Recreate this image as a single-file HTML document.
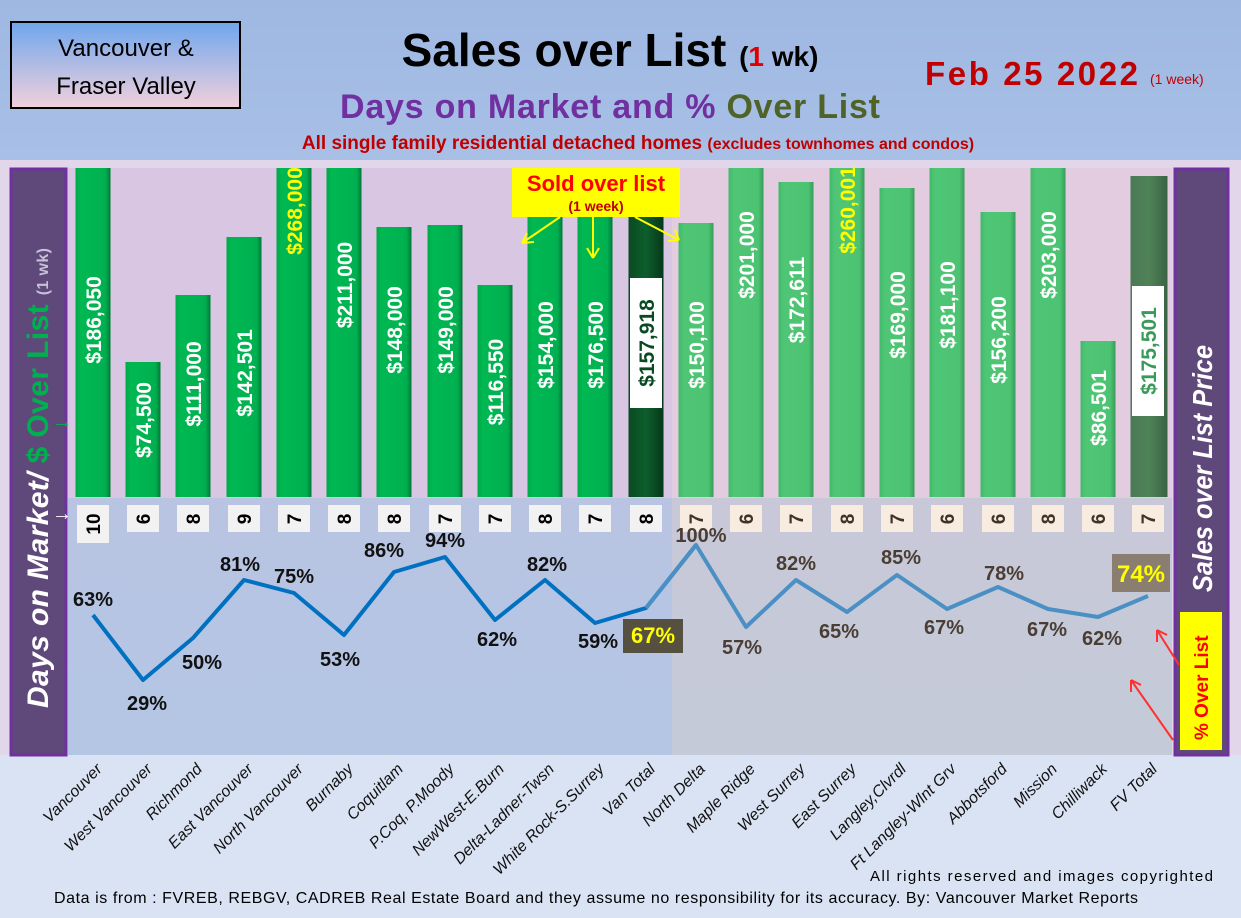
<!DOCTYPE html><html><head><meta charset="utf-8"><style>body{margin:0}svg{display:block}</style></head><body>
<svg width="1241" height="918" xmlns="http://www.w3.org/2000/svg" font-family="Liberation Sans, sans-serif">
<defs>
<linearGradient id="hdr" x1="0" y1="0" x2="0" y2="1"><stop offset="0" stop-color="#9fb8e2"/><stop offset="1" stop-color="#a8c0e6"/></linearGradient>
<linearGradient id="tb" x1="0" y1="0" x2="0" y2="1"><stop offset="0" stop-color="#6fa6ec"/><stop offset="1" stop-color="#f2d0dc"/></linearGradient>
<linearGradient id="g1" x1="0" x2="1"><stop offset="0" stop-color="#00a848"/><stop offset=".15" stop-color="#00b852"/><stop offset=".85" stop-color="#00b050"/><stop offset="1" stop-color="#007a36"/></linearGradient>
<linearGradient id="g2" x1="0" x2="1"><stop offset="0" stop-color="#42b86a"/><stop offset=".15" stop-color="#4fc676"/><stop offset=".85" stop-color="#4cc372"/><stop offset="1" stop-color="#3a9a5a"/></linearGradient>
<linearGradient id="g3" x1="0" x2="1"><stop offset="0" stop-color="#0a4a22"/><stop offset=".5" stop-color="#0d5e2c"/><stop offset="1" stop-color="#06381a"/></linearGradient>
<linearGradient id="g4" x1="0" x2="1"><stop offset="0" stop-color="#4a7a55"/><stop offset=".5" stop-color="#508258"/><stop offset="1" stop-color="#3a6444"/></linearGradient>
<linearGradient id="lowL" x1="0" y1="0" x2="0" y2="1"><stop offset="0" stop-color="#b8c4e2"/><stop offset="1" stop-color="#b4c6e4"/></linearGradient>
<linearGradient id="lowR" x1="0" y1="0" x2="0" y2="1"><stop offset="0" stop-color="#c8c8d8"/><stop offset="1" stop-color="#c4cad8"/></linearGradient>
</defs>
<rect width="1241" height="918" fill="#dae3f3"/>
<rect width="1241" height="160" fill="url(#hdr)"/>
<rect x="0" y="160" width="1241" height="600" fill="#e2d6ea"/>
<rect x="68" y="168" width="604" height="330" fill="#d8c6e2"/>
<rect x="672" y="168" width="500" height="330" fill="#e4cce0"/>
<rect x="68" y="498" width="604" height="257" fill="url(#lowL)"/>
<rect x="672" y="498" width="500" height="257" fill="url(#lowR)"/>
<rect x="0" y="755" width="1241" height="163" fill="#dae3f3"/>
<!-- title -->
<rect x="11" y="22" width="229" height="86" fill="url(#tb)" stroke="#000" stroke-width="2"/>
<text x="126" y="56" font-size="24" text-anchor="middle">Vancouver &amp;</text>
<text x="126" y="94" font-size="24" text-anchor="middle">Fraser Valley</text>
<text x="610" y="66" font-size="46" font-weight="bold" text-anchor="middle">Sales over List <tspan font-size="28">(<tspan fill="#e00000">1</tspan> wk)</tspan></text>
<text x="610" y="118" font-size="34" font-weight="bold" text-anchor="middle" fill="#7030a0" textLength="540">Days on Market and % <tspan fill="#4f6228">Over List</tspan></text>
<text x="638" y="149" font-size="19" font-weight="bold" text-anchor="middle" fill="#c00000">All single family residential detached homes <tspan font-size="16">(excludes townhomes and condos)</tspan></text>
<text x="925" y="85" font-size="33" font-weight="bold" fill="#c00000" textLength="213">Feb 25  2022</text>
<text x="1150" y="84" font-size="14" fill="#c00000">(1 week)</text>
<!-- side panels -->
<rect x="11" y="169" width="55" height="586" fill="#5f497a" stroke="#7030a0" stroke-width="3"/>
<text transform="translate(48,708) rotate(-90)" font-size="30" font-weight="bold" font-style="italic" fill="#fff" textLength="460">Days on Market/ <tspan fill="#00b050" font-style="normal">$ Over List</tspan> <tspan font-size="16" fill="#c8c0d8" font-style="normal">(1 wk)</tspan></text>
<text x="52" y="428" font-size="20" fill="#00b050">→</text>
<text x="52" y="520" font-size="20" fill="#fff">→</text>
<rect x="1175" y="169" width="53" height="586" fill="#5f497a" stroke="#7030a0" stroke-width="3"/>
<text transform="translate(1212,592) rotate(-90)" font-size="28" font-weight="bold" font-style="italic" fill="#fff" textLength="247" lengthAdjust="spacingAndGlyphs">Sales over List Price</text>
<rect x="1180" y="612" width="42" height="138" fill="#ffff00"/>
<text transform="translate(1208,740) rotate(-90)" font-size="19" font-weight="bold" fill="#ff0000">% Over List</text>
<g stroke="#ff3030" stroke-width="2" fill="none"><path d="M1179 665 L1157 630 M1157 630 l0 12 M1157 630 l10 5"/><path d="M1173 740 L1131 680 M1131 680 l0 12 M1131 680 l10 5"/></g>
<!-- bars -->
<g>
<rect x="75.5" y="168" width="35" height="329" fill="url(#g1)"/>
<rect x="125.5" y="362" width="35" height="135" fill="url(#g1)"/>
<rect x="175.5" y="295" width="35" height="202" fill="url(#g1)"/>
<rect x="226.5" y="237" width="35" height="260" fill="url(#g1)"/>
<rect x="276.5" y="168" width="35" height="329" fill="url(#g1)"/>
<rect x="326.5" y="168" width="35" height="329" fill="url(#g1)"/>
<rect x="376.5" y="227" width="35" height="270" fill="url(#g1)"/>
<rect x="427.5" y="225" width="35" height="272" fill="url(#g1)"/>
<rect x="477.5" y="285" width="35" height="212" fill="url(#g1)"/>
<rect x="527.5" y="215" width="35" height="282" fill="url(#g1)"/>
<rect x="577.5" y="195" width="35" height="302" fill="url(#g1)"/>
<rect x="628.5" y="213" width="35" height="284" fill="url(#g3)"/>
<rect x="678.5" y="223" width="35" height="274" fill="url(#g2)"/>
<rect x="728.5" y="168" width="35" height="329" fill="url(#g2)"/>
<rect x="778.5" y="182" width="35" height="315" fill="url(#g2)"/>
<rect x="829.5" y="168" width="35" height="329" fill="url(#g2)"/>
<rect x="879.5" y="188" width="35" height="309" fill="url(#g2)"/>
<rect x="929.5" y="168" width="35" height="329" fill="url(#g2)"/>
<rect x="980.5" y="212" width="35" height="285" fill="url(#g2)"/>
<rect x="1030.5" y="168" width="35" height="329" fill="url(#g2)"/>
<rect x="1080.5" y="341" width="35" height="156" fill="url(#g2)"/>
<rect x="1130.5" y="176" width="37" height="321" fill="url(#g4)"/>
</g>
<rect x="630" y="278" width="32" height="130" fill="#fff"/>
<rect x="1132" y="286" width="32" height="130" fill="#fff"/>
<g font-size="21" font-weight="bold" fill="#fff" text-anchor="middle">
<text transform="translate(101,320) rotate(-90)">$186,050</text>
<text transform="translate(151,420) rotate(-90)">$74,500</text>
<text transform="translate(201,384) rotate(-90)">$111,000</text>
<text transform="translate(252,373) rotate(-90)">$142,501</text>
<text transform="translate(302,211) rotate(-90)" fill="#ffff00">$268,000</text>
<text transform="translate(352,285) rotate(-90)">$211,000</text>
<text transform="translate(402,330) rotate(-90)">$148,000</text>
<text transform="translate(453,330) rotate(-90)">$149,000</text>
<text transform="translate(503,382) rotate(-90)">$116,550</text>
<text transform="translate(553,345) rotate(-90)">$154,000</text>
<text transform="translate(603,345) rotate(-90)">$176,500</text>
<text transform="translate(654,343) rotate(-90)" fill="#0a4a22">$157,918</text>
<text transform="translate(704,345) rotate(-90)">$150,100</text>
<text transform="translate(754,255) rotate(-90)">$201,000</text>
<text transform="translate(804,300) rotate(-90)">$172,611</text>
<text transform="translate(855,210) rotate(-90)" fill="#ffff00">$260,001</text>
<text transform="translate(905,315) rotate(-90)">$169,000</text>
<text transform="translate(955,305) rotate(-90)">$181,100</text>
<text transform="translate(1006,340) rotate(-90)">$156,200</text>
<text transform="translate(1056,255) rotate(-90)">$203,000</text>
<text transform="translate(1106,408) rotate(-90)">$86,501</text>
<text transform="translate(1156,351) rotate(-90)" fill="#3a9a5a">$175,501</text>
</g>
<!-- sold over list -->
<rect x="512" y="168" width="168" height="49" fill="#ffff00"/>
<text x="596" y="191" font-size="22" font-weight="bold" fill="#ff0000" text-anchor="middle">Sold over list</text>
<text x="596" y="211" font-size="14" font-weight="bold" fill="#c00000" text-anchor="middle">(1 week)</text>
<g stroke="#ffff00" stroke-width="2" fill="none">
<path d="M560 217 L522 243 M522 243 l12 -1 M522 243 l5 -10"/>
<path d="M593 217 L593 258 M593 258 l-6 -10 M593 258 l6 -10"/>
<path d="M635 217 L679 240 M679 240 l-11 1 M679 240 l-4 -10"/>
</g>
<!-- days boxes -->
<g fill="#f2f2f2">
<rect x="77" y="505" width="32" height="38"/><rect x="127" y="505" width="32" height="27"/><rect x="177" y="505" width="32" height="27"/><rect x="228" y="505" width="32" height="27"/><rect x="278" y="505" width="32" height="27"/><rect x="328" y="505" width="32" height="27"/><rect x="378" y="505" width="32" height="27"/><rect x="429" y="505" width="32" height="27"/><rect x="479" y="505" width="32" height="27"/><rect x="529" y="505" width="32" height="27"/><rect x="579" y="505" width="32" height="27"/><rect x="630" y="505" width="32" height="27"/>
</g>
<g fill="#f8ebe0">
<rect x="680" y="505" width="32" height="27"/><rect x="730" y="505" width="32" height="27"/><rect x="780" y="505" width="32" height="27"/><rect x="831" y="505" width="32" height="27"/><rect x="881" y="505" width="32" height="27"/><rect x="931" y="505" width="32" height="27"/><rect x="982" y="505" width="32" height="27"/><rect x="1032" y="505" width="32" height="27"/><rect x="1082" y="505" width="32" height="27"/><rect x="1132" y="505" width="32" height="27"/>
</g>
<g font-size="19" font-weight="bold" fill="#000" text-anchor="middle">
<text transform="translate(100,524) rotate(-90)">10</text>
<text transform="translate(150,519) rotate(-90)">6</text>
<text transform="translate(200,519) rotate(-90)">8</text>
<text transform="translate(251,519) rotate(-90)">9</text>
<text transform="translate(301,519) rotate(-90)">7</text>
<text transform="translate(351,519) rotate(-90)">8</text>
<text transform="translate(401,519) rotate(-90)">8</text>
<text transform="translate(452,519) rotate(-90)">7</text>
<text transform="translate(502,519) rotate(-90)">7</text>
<text transform="translate(552,519) rotate(-90)">8</text>
<text transform="translate(602,519) rotate(-90)">7</text>
<text transform="translate(653,519) rotate(-90)">8</text>
<g fill="#3f3328">
<text transform="translate(703,519) rotate(-90)">7</text>
<text transform="translate(753,519) rotate(-90)">6</text>
<text transform="translate(803,519) rotate(-90)">7</text>
<text transform="translate(854,519) rotate(-90)">8</text>
<text transform="translate(904,519) rotate(-90)">7</text>
<text transform="translate(954,519) rotate(-90)">6</text>
<text transform="translate(1005,519) rotate(-90)">6</text>
<text transform="translate(1055,519) rotate(-90)">8</text>
<text transform="translate(1105,519) rotate(-90)">6</text>
<text transform="translate(1155,519) rotate(-90)">7</text>
</g></g>
<!-- line -->
<polyline points="93,615 143,680 193,638 244,580 294,593 344,635 394,572 445,557 495,620 545,580 595,623 646,608 696,545" fill="none" stroke="#0070c0" stroke-width="4" stroke-linejoin="round"/>
<polyline points="646,608 696,545 746,627 796,580 847,612 897,575 947,609 998,587 1048,609 1098,617 1148,596" fill="none" stroke="#4a90c4" stroke-width="4" stroke-linejoin="round"/>
<rect x="623" y="619" width="60" height="34" fill="#55503f"/>
<rect x="1112" y="554" width="58" height="38" fill="#8a7e70"/>
<g font-size="20" font-weight="bold" text-anchor="middle" fill="#111">
<text x="93" y="606">63%</text><text x="147" y="710">29%</text><text x="202" y="669">50%</text><text x="240" y="571">81%</text><text x="294" y="583">75%</text><text x="340" y="666">53%</text><text x="384" y="557">86%</text><text x="445" y="547">94%</text><text x="497" y="646">62%</text><text x="547" y="571">82%</text><text x="598" y="648">59%</text>
<text x="653" y="643" font-size="22" fill="#ffff00">67%</text>
<g fill="#4a3e34"><text x="701" y="542">100%</text><text x="742" y="654">57%</text><text x="796" y="570">82%</text><text x="839" y="638">65%</text><text x="901" y="564">85%</text><text x="944" y="634">67%</text><text x="1004" y="580">78%</text><text x="1047" y="636">67%</text><text x="1102" y="645">62%</text></g>
<text x="1141" y="582" font-size="24" fill="#ffff00">74%</text>
</g>
<!-- x labels -->
<g font-size="16" font-style="italic" fill="#111" text-anchor="end">
<text transform="translate(103,770) rotate(-45)">Vancouver</text>
<text transform="translate(153,770) rotate(-45)">West Vancouver</text>
<text transform="translate(203,770) rotate(-45)">Richmond</text>
<text transform="translate(254,770) rotate(-45)">East Vancouver</text>
<text transform="translate(304,770) rotate(-45)">North Vancouver</text>
<text transform="translate(354,770) rotate(-45)">Burnaby</text>
<text transform="translate(404,770) rotate(-45)">Coquitlam</text>
<text transform="translate(455,770) rotate(-45)">P.Coq, P.Moody</text>
<text transform="translate(505,770) rotate(-45)">NewWest-E.Burn</text>
<text transform="translate(555,770) rotate(-45)">Delta-Ladner-Twsn</text>
<text transform="translate(605,770) rotate(-45)">White Rock-S.Surrey</text>
<text transform="translate(656,770) rotate(-45)">Van Total</text>
<text transform="translate(706,770) rotate(-45)">North Delta</text>
<text transform="translate(756,770) rotate(-45)">Maple Ridge</text>
<text transform="translate(806,770) rotate(-45)">West Surrey</text>
<text transform="translate(857,770) rotate(-45)">East Surrey</text>
<text transform="translate(907,770) rotate(-45)">Langley,Clvrdl</text>
<text transform="translate(957,770) rotate(-45)">Ft Langley-Wlnt Grv</text>
<text transform="translate(1008,770) rotate(-45)">Abbotsford</text>
<text transform="translate(1058,770) rotate(-45)">Mission</text>
<text transform="translate(1108,770) rotate(-45)">Chilliwack</text>
<text transform="translate(1158,770) rotate(-45)">FV Total</text>
</g>
<text x="870" y="881" font-size="15" textLength="343">All rights reserved and  images copyrighted</text>
<text x="54" y="903" font-size="16" textLength="1084">Data is from : FVREB, REBGV, CADREB Real Estate Board and they assume no responsibility for its accuracy. By: Vancouver Market Reports</text>
</svg></body></html>
